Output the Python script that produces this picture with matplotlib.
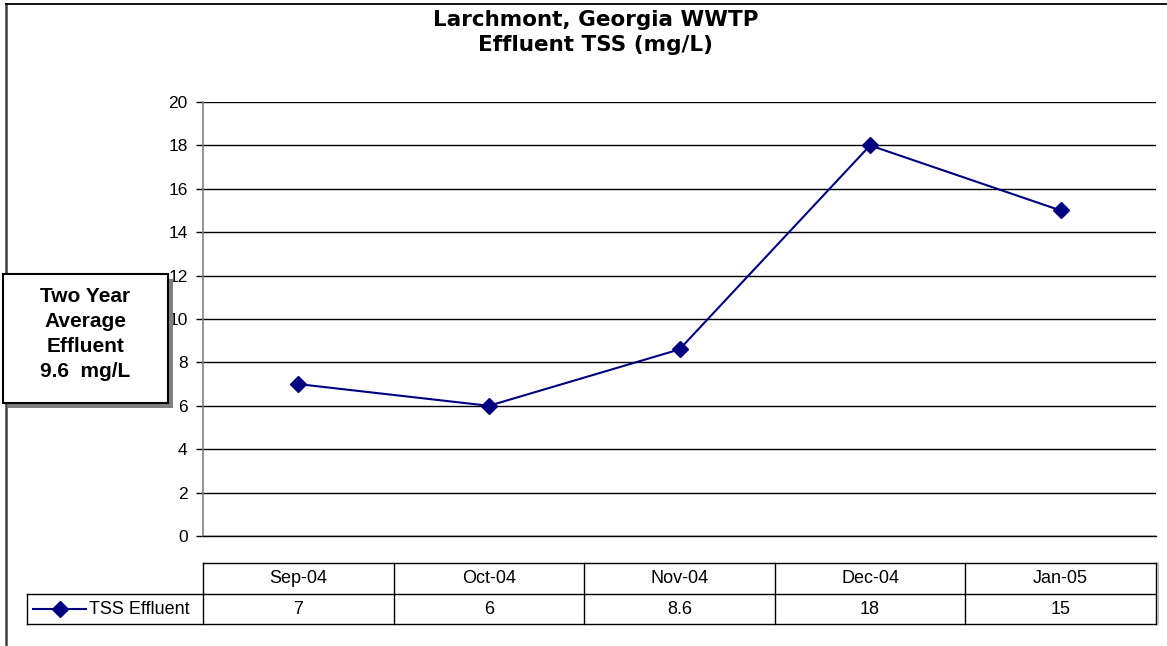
import matplotlib
matplotlib.use("Agg")
import matplotlib.pyplot as plt
from matplotlib.lines import Line2D
from matplotlib.patches import Rectangle

# Data
months = ["Sep-04", "Oct-04", "Nov-04", "Dec-04", "Jan-05"]
tss_values = [7, 6, 8.6, 18, 15]
tss_labels = ["7", "6", "8.6", "18", "15"]
series_name = "TSS Effluent"
title_lines = ["Larchmont, Georgia WWTP", "Effluent TSS (mg/L)"]
box_text = "Two Year\nAverage\nEffluent\n9.6  mg/L"
y_ticks = [0, 2, 4, 6, 8, 10, 12, 14, 16, 18, 20]

W, H = 1167, 646
fig = plt.figure(figsize=(W / 100, H / 100), dpi=100)
fig.patch.set_facecolor("white")

def fx(px):
    return px / W

def fy(py):
    return 1 - py / H

NAVY = "#000080"
FONT = "Liberation Sans"

# outer chart border
fig.add_artist(Line2D([fx(6), fx(6)], [fy(4), fy(646)], color="#404040", lw=1.8, transform=fig.transFigure))
fig.add_artist(Line2D([fx(6), fx(1167)], [fy(4), fy(4)], color="black", lw=1.3, transform=fig.transFigure))

L, R, T, B = 203, 1156, 102, 536
ax = fig.add_axes([fx(L), fy(B), fx(R) - fx(L), fy(T) - fy(B)])
n = len(months)
x = list(range(n))
ax.set_xlim(-0.5, n - 0.5)
ax.set_ylim(0, 20)
ax.set_yticks(y_ticks)
ax.set_yticklabels([str(v) for v in y_ticks], fontsize=12.5, family=FONT)
ax.tick_params(axis="y", length=5, width=1, color="black", pad=6)
ax.set_xticks([])
for s in ["top", "right"]:
    ax.spines[s].set_visible(False)
ax.spines["bottom"].set_color("black")
ax.spines["bottom"].set_linewidth(1)
ax.spines["left"].set_color("#808080")
ax.spines["left"].set_linewidth(1.2)
ax.grid(axis="y", color="black", lw=1)
ax.set_axisbelow(True)

ax.plot(x, tss_values, color=NAVY, lw=1.5, marker="D", markersize=8, markerfacecolor=NAVY, markeredgecolor=NAVY, zorder=3, clip_on=False)

# Title
fig.text(fx(596), fy(20), title_lines[0], ha="center", va="center", fontsize=15.5, fontweight="bold", family="DejaVu Sans")
fig.text(fx(596), fy(45), title_lines[1], ha="center", va="center", fontsize=15.5, fontweight="bold", family="DejaVu Sans")

# Data table below the axes
t_top, t_mid, t_bot = 563, 594, 624
t_left = 27
col_w = (R - L) / n
lw_t = 1.0
def hline(x0, x1, y):
    fig.add_artist(Line2D([fx(x0), fx(x1)], [fy(y), fy(y)], color="black", lw=lw_t, transform=fig.transFigure))
def vline(xp, y0, y1):
    fig.add_artist(Line2D([fx(xp), fx(xp)], [fy(y0), fy(y1)], color="black", lw=lw_t, transform=fig.transFigure))

hline(L, R, t_top)
hline(t_left, R, t_mid)
hline(t_left, R, t_bot)
vline(t_left, t_mid, t_bot)
for i in range(n + 1):
    vline(L + i * col_w, t_top, t_bot)
fig.add_artist(Line2D([fx(R + 1.5), fx(R + 1.5)], [fy(t_top), fy(t_bot)], color="#b0b0b0", lw=1.2, transform=fig.transFigure))

for i, (m, v) in enumerate(zip(months, tss_labels)):
    cx = L + (i + 0.5) * col_w
    fig.text(fx(cx), fy((t_top + t_mid) / 2), m, ha="center", va="center", fontsize=13, family=FONT)
    fig.text(fx(cx), fy((t_mid + t_bot) / 2), v, ha="center", va="center", fontsize=13, family=FONT)

# legend key in row header
ym = (t_mid + t_bot) / 2
fig.add_artist(Line2D([fx(33), fx(86)], [fy(ym), fy(ym)], color=NAVY, lw=1.5, transform=fig.transFigure))
fig.add_artist(Line2D([fx(60)], [fy(ym)], color=NAVY, marker="D", markersize=8, transform=fig.transFigure))
fig.text(fx(89), fy(ym), series_name, ha="left", va="center", fontsize=13, family=FONT)

# Text box with shadow
bx0, by0, bx1, by1 = 3, 274, 168, 403
sh = 5
fig.add_artist(Rectangle((fx(bx0 + sh), fy(by1 + sh)), fx(bx1 - bx0), fy(by0) - fy(by1), transform=fig.transFigure, facecolor="#808080", edgecolor="none", zorder=5))
fig.add_artist(Rectangle((fx(bx0), fy(by1)), fx(bx1 - bx0), fy(by0) - fy(by1), transform=fig.transFigure, facecolor="white", edgecolor="black", lw=1.5, zorder=6))
fig.text(fx((bx0 + bx1) / 2), fy(334), box_text, ha="center", va="center", fontsize=15, fontweight="bold", family=FONT, linespacing=1.4, zorder=7)

fig.savefig("out.png", dpi=100)
